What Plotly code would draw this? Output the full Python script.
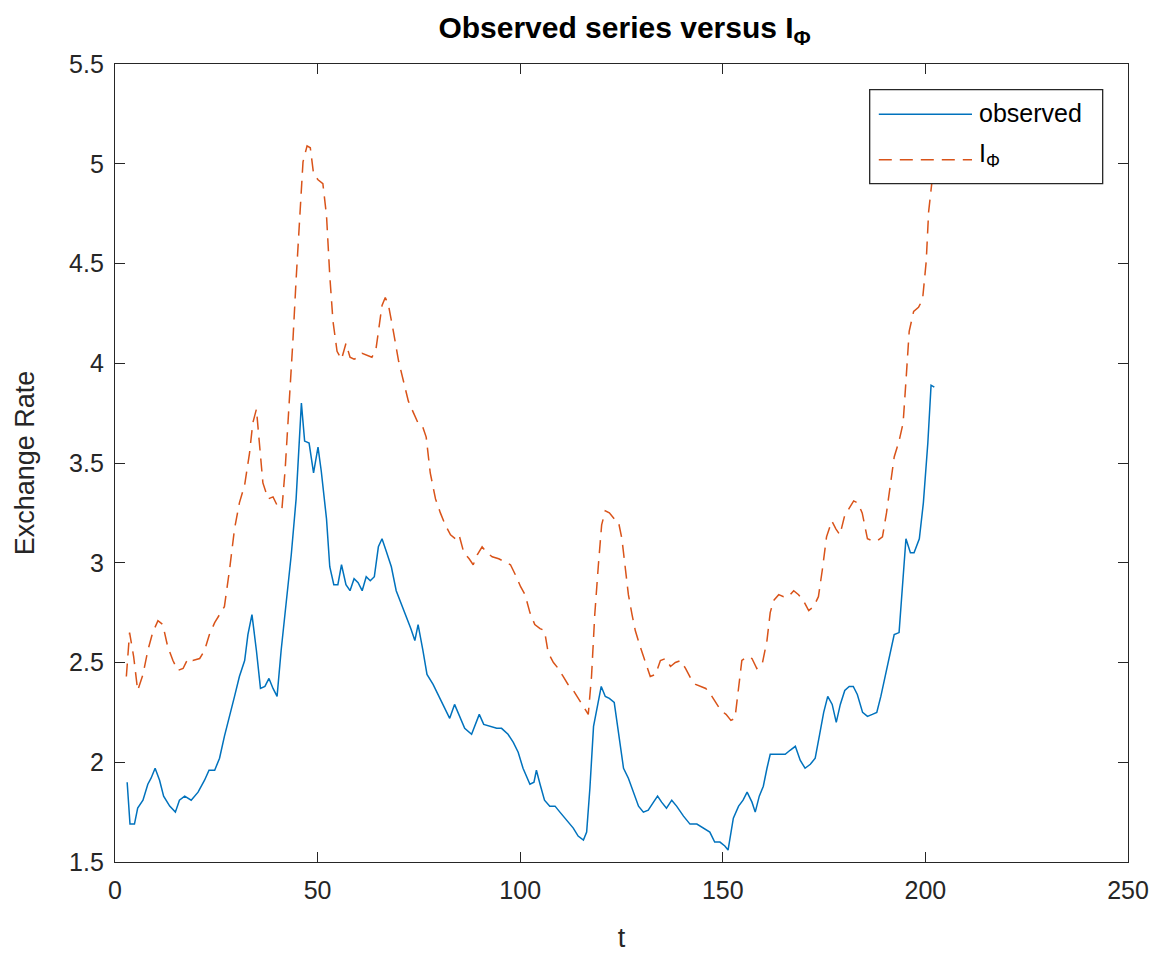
import plotly.graph_objects as go

# ---- data ----
t_obs = [3, 3.7, 4.8, 5.6, 6.9, 8.1, 8.9, 9.9, 11, 12, 13.5, 14.9, 15.9, 17.2, 18.8, 20.5, 22.1, 23.2, 24.6, 25.8,
         27, 28.3, 29.5, 30.7, 32, 32.8, 33.8, 34.9, 35.9, 37, 38, 39, 40, 41, 42.3, 43.5, 44.7, 46, 46.8, 47.9,
         49, 50.1, 50.9, 52.2, 53, 54, 55, 55.9, 57, 58, 59, 60, 61, 62, 63, 64, 65, 65.9, 66.9, 68.2,
         69.4, 70.6, 71.8, 73, 74, 74.8, 76, 77, 78.5, 79.7, 81.1, 82.6, 83.8, 85, 86.3, 88, 89, 89.9, 91, 92.5,
         94.2, 95.4, 97, 98.3, 99.5, 100.7, 102.4, 103.4, 104, 104.9, 106, 107.3, 108.6, 109.8, 111.4, 113.1, 114.3, 115.6, 116.4, 117.2,
         118.1, 119.1, 120, 121, 122, 123.2, 124.2, 125.5, 126.7, 128, 129.2, 130.4, 131.6, 132.9, 133.9, 134.9, 136.1, 137.4, 138.6, 140.3,
         141.9, 143.6, 145.2, 146.8, 148, 149.3, 150.5, 151.3, 152.6, 153.9, 155, 156, 157.2, 158, 159, 160, 160.9, 161.7, 163, 164.2,
         165.4, 166.6, 167.9, 169.1, 170.3, 171.6, 172.8, 173.9, 174.9, 175.9, 177, 178, 179, 180.1, 181.2, 182.2, 183.2, 184.5, 185.7, 186.9,
         188, 189, 190.2, 191.5, 192.3, 193.5, 194.4, 195.2, 196.3, 197.2, 198.5, 199.5, 200.6, 201.4, 202.2]
observed = [1.90, 1.69, 1.69, 1.77, 1.81, 1.89, 1.92, 1.97, 1.91, 1.83, 1.78, 1.75, 1.81, 1.83, 1.81, 1.85, 1.91, 1.96, 1.96, 2.02,
            2.13, 2.23, 2.33, 2.43, 2.51, 2.64, 2.74, 2.56, 2.37, 2.38, 2.42, 2.37, 2.33, 2.56, 2.81, 3.04, 3.32, 3.80, 3.61, 3.60,
            3.45, 3.58, 3.46, 3.22, 2.98, 2.89, 2.89, 2.99, 2.89, 2.86, 2.92, 2.90, 2.86, 2.93, 2.91, 2.93, 3.08, 3.12, 3.06, 2.98,
            2.86, 2.80, 2.74, 2.67, 2.61, 2.69, 2.56, 2.44, 2.39, 2.34, 2.29, 2.22, 2.29, 2.23, 2.17, 2.14, 2.19, 2.24, 2.19, 2.18,
            2.17, 2.17, 2.14, 2.10, 2.05, 1.97, 1.89, 1.90, 1.96, 1.89, 1.81, 1.78, 1.78, 1.75, 1.71, 1.67, 1.63, 1.61, 1.65, 1.87,
            2.18, 2.29, 2.38, 2.33, 2.32, 2.30, 2.15, 1.97, 1.92, 1.85, 1.78, 1.75, 1.76, 1.80, 1.83, 1.80, 1.77, 1.81, 1.78, 1.73,
            1.69, 1.69, 1.67, 1.65, 1.60, 1.60, 1.58, 1.56, 1.72, 1.78, 1.81, 1.85, 1.80, 1.75, 1.83, 1.88, 1.97, 2.04, 2.04, 2.04,
            2.04, 2.06, 2.08, 2.01, 1.97, 1.99, 2.02, 2.14, 2.25, 2.33, 2.29, 2.20, 2.29, 2.36, 2.38, 2.38, 2.34, 2.25, 2.23, 2.24,
            2.25, 2.33, 2.44, 2.56, 2.64, 2.65, 2.89, 3.12, 3.05, 3.05, 3.12, 3.30, 3.60, 3.89, 3.88]

t_iphi = [2.8, 3.6, 4.6, 5.6, 6.9, 8.1, 9.3, 10.6, 11.8, 13, 14.3, 15.5, 16.8, 18, 19.2, 20.9, 22.1, 23.3, 24.6, 25.8,
          27, 28.3, 29.5, 30.7, 32, 33.2, 34, 34.9, 35.7, 36.5, 37.8, 39, 40.2, 41.2, 42, 43.1, 43.9, 44.7, 45.6, 46.4,
          47.4, 48.2, 49, 50.1, 51.3, 52.2, 53, 53.8, 54.8, 55.9, 57, 58, 59, 60, 61, 62.2, 63.4, 64.4, 65.2, 65.9,
          66.7, 67.5, 68.7, 70, 71.2, 72.4, 73.7, 74.8, 75.8, 76.8, 77.8, 79.1, 80.3, 81.5, 82.8, 84, 84.9, 86.1, 87.4, 88.4,
          89.4, 90.6, 91.8, 93.1, 94.7, 96.4, 97.6, 98.8, 100.1, 101.2, 102.4, 103.6, 104.9, 106, 106.9, 108.2, 109.4, 110.6, 111.8, 113.1,
          114.3, 115.6, 116.8, 117.6, 118.4, 119.3, 120.1, 121, 122, 123.2, 124.2, 125.1, 125.9, 126.7, 127.6, 128.4, 129.6, 130.9, 132.1, 133.4,
          134.6, 135.9, 137.1, 138.3, 139.6, 140.8, 142.1, 143.3, 144.5, 145.8, 147, 148.3, 149.5, 150.8, 152, 153, 153.9, 154.7, 156, 157.2,
          158.4, 159.7, 160.9, 161.7, 162.5, 163.8, 165, 166.2, 167.5, 168.7, 169.9, 171.2, 172.4, 173.6, 174.6, 175.6, 176.9, 177.9, 178.9, 180,
          181.1, 182.3, 183.3, 184.4, 185.7, 186.9, 188.1, 189.4, 190.4, 191.4, 192.3, 193.5, 194.5, 195.2, 196, 197.1, 198.3, 199.3, 200.2, 200.8,
          201.4, 202]
iphi = [2.43, 2.65, 2.53, 2.36, 2.44, 2.56, 2.65, 2.71, 2.69, 2.58, 2.51, 2.46, 2.47, 2.52, 2.51, 2.52, 2.56, 2.64, 2.70, 2.74,
        2.78, 2.97, 3.17, 3.30, 3.39, 3.55, 3.70, 3.77, 3.60, 3.40, 3.32, 3.33, 3.28, 3.27, 3.47, 3.83, 4.11, 4.42, 4.72, 5.01,
        5.09, 5.08, 4.95, 4.92, 4.90, 4.74, 4.44, 4.21, 4.06, 4.02, 4.10, 4.03, 4.02, 4.03, 4.05, 4.04, 4.03, 4.07, 4.19, 4.29,
        4.33, 4.29, 4.16, 4.01, 3.91, 3.81, 3.75, 3.70, 3.69, 3.63, 3.45, 3.32, 3.25, 3.19, 3.14, 3.12, 3.14, 3.05, 3.02, 2.99,
        3.04, 3.08, 3.05, 3.03, 3.02, 3.00, 2.99, 2.94, 2.88, 2.84, 2.75, 2.69, 2.67, 2.66, 2.55, 2.50, 2.47, 2.43, 2.39, 2.36,
        2.32, 2.28, 2.24, 2.43, 2.74, 2.99, 3.19, 3.26, 3.25, 3.22, 3.21, 3.12, 2.97, 2.84, 2.74, 2.66, 2.58, 2.50, 2.43, 2.44,
        2.51, 2.52, 2.48, 2.50, 2.51, 2.47, 2.42, 2.39, 2.38, 2.37, 2.34, 2.30, 2.26, 2.24, 2.21, 2.22, 2.39, 2.51, 2.53, 2.52,
        2.47, 2.49, 2.61, 2.75, 2.81, 2.84, 2.83, 2.83, 2.86, 2.84, 2.81, 2.76, 2.78, 2.83, 2.97, 3.13, 3.21, 3.17, 3.14, 3.23,
        3.27, 3.31, 3.30, 3.25, 3.12, 3.11, 3.11, 3.13, 3.25, 3.40, 3.53, 3.61, 3.70, 3.91, 4.16, 4.26, 4.28, 4.32, 4.51, 4.76,
        4.87, 4.98]

x_ticks = [0, 50, 100, 150, 200, 250]
y_ticks = [1.5, 2, 2.5, 3, 3.5, 4, 4.5, 5, 5.5]
y_tick_labels = ["1.5", "2", "2.5", "3", "3.5", "4", "4.5", "5", "5.5"]

BLUE = "#0072BD"
ORANGE = "#D95319"
AX = "#262626"
FONT = "Liberation Sans"
DASH = "13px,8px"

fig = go.Figure()
fig.add_trace(go.Scatter(x=t_obs, y=observed, mode="lines", name="observed",
                         line=dict(color=BLUE, width=1.5)))
fig.add_trace(go.Scatter(x=t_iphi, y=iphi, mode="lines", name="I<sub>Φ</sub>",
                         line=dict(color=ORANGE, width=1.5, dash=DASH)))

axis_common = dict(showline=True, linecolor=AX, linewidth=1.3, mirror="ticks",
                   ticks="inside", ticklen=10, tickwidth=1.3, tickcolor=AX,
                   showgrid=False, zeroline=False, automargin=False,
                   tickfont=dict(family=FONT, size=25, color=AX))

fig.update_xaxes(range=[0, 250], tickvals=x_ticks, ticklabelstandoff=6, **axis_common,
                 title=dict(text="t", font=dict(family=FONT, size=27, color=AX), standoff=24))
fig.update_yaxes(range=[1.5, 5.5], tickvals=y_ticks, ticktext=y_tick_labels, ticklabelstandoff=5, **axis_common,
                 title=dict(text="Exchange Rate", font=dict(family=FONT, size=27, color=AX), standoff=26))

# legend box drawn MATLAB style (opaque, boxed)
lx0, lx1, ly0, ly1 = 0.745, 0.975, 0.850, 0.968
fig.add_shape(type="rect", xref="paper", yref="paper", x0=lx0, x1=lx1, y0=ly0, y1=ly1,
              fillcolor="white", line=dict(color=AX, width=1.3), layer="above")
fig.add_shape(type="line", xref="paper", yref="paper", x0=0.754, x1=0.846, y0=0.937, y1=0.937,
              line=dict(color=BLUE, width=1.5), layer="above")
fig.add_shape(type="line", xref="paper", yref="paper", x0=0.754, x1=0.846, y0=0.880, y1=0.880,
              line=dict(color=ORANGE, width=1.5, dash=DASH), layer="above")
fig.add_annotation(xref="paper", yref="paper", x=0.851, y=0.938, xanchor="left", yanchor="middle",
                   text="observed", showarrow=False, font=dict(family=FONT, size=25, color="black"))
fig.add_annotation(xref="paper", yref="paper", x=0.851, y=0.886, xanchor="left", yanchor="middle",
                   text="I<sub>Φ</sub>", showarrow=False, font=dict(family=FONT, size=25, color="black"))

fig.update_layout(
    width=1161, height=956,
    margin=dict(l=115, r=33, t=64, b=94),
    paper_bgcolor="white", plot_bgcolor="white",
    showlegend=False,
    title=dict(text="<b>Observed series versus I<sub>Φ</sub></b>", x=0.538, xanchor="center",
               y=0.971, yanchor="middle", font=dict(family=FONT, size=30, color="black")),
)

fig.write_html("out.html")
